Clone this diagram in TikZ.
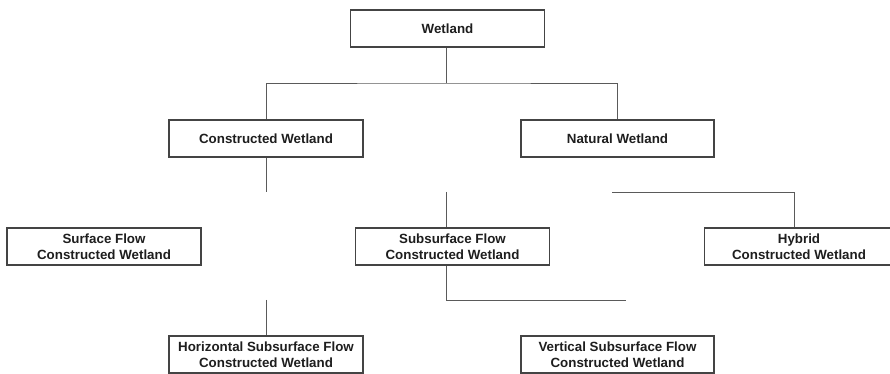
\documentclass[tikz,border=0pt]{standalone}
\usepackage{fontspec}
\setmainfont{Liberation Sans}
\usepackage{tikz}
\usetikzlibrary{positioning,calc}
\definecolor{boxline}{HTML}{444444}
\definecolor{linkline}{HTML}{5A5A5A}
\definecolor{boxtext}{HTML}{1E1E1E}

\begin{document}
\begin{tikzpicture}[x=0.75pt,y=-0.75pt,
    box/.style={draw=boxline, line width=0.85pt, fill=white, text=boxtext,
        minimum width=145.5pt, minimum height=27.75pt, inner sep=0pt,
        align=center, font=\fontsize{10}{12}\selectfont\bfseries},
    link/.style={draw=linkline, line width=0.7pt}]
    \useasboundingbox (0,0) rectangle (890,374);

    \node[box] (wet) at (447.5,28.5) {Wetland};
    \node[box] (con) at (266,138.5) {Constructed Wetland};
    \node[box, minimum width=144.75pt] (nat) at (617.5,138.5) {Natural Wetland};

    \node[box] (sfc) at (104,246.5) {Surface Flow\\Constructed Wetland};
    \node[box] (ssf) at (452.5,246.5) {Subsurface Flow\\Constructed Wetland};
    \node[box, minimum width=142pt] (hyb) at (799,246.5) {Hybrid\\Constructed Wetland};

    \node[box] (hsf) at (266,354.5) {Horizontal Subsurface Flow\\Constructed Wetland};
    \node[box, minimum width=144.75pt] (vsf) at (617.5,354.5) {Vertical Subsurface Flow\\Constructed Wetland};

    \coordinate (split) at (446,83);
    \coordinate (constub) at (266,192);
    \coordinate (ssfstub) at (446,192);
    \coordinate (hybstub) at (612,192);
    \coordinate (ssfbend) at (626,300);
    \coordinate (hsfstub) at (266,300);

    \draw[link] (wet.south -| split) -- (split);
    \draw[link] (con.north) |- (split) -| (nat.north);
    \draw[link] (con.south) -- (constub);
    \draw[link] (ssfstub) -- (ssfstub |- ssf.north);
    \draw[link] (hybstub) -| ([xshift=-3.75pt]hyb.north);
    \draw[link] (ssfstub |- ssf.south) |- (ssfbend);
    \draw[link] (hsfstub) -- (hsf.north);
\end{tikzpicture}
\end{document}
